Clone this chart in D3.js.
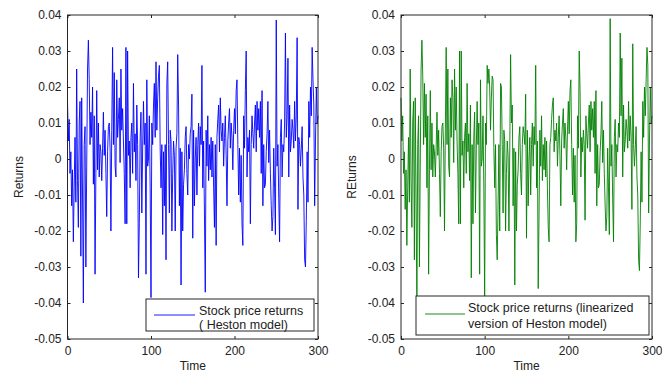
<!DOCTYPE html>
<html>
<head>
<meta charset="utf-8">
<script src="https://cdn.jsdelivr.net/npm/d3@7"></script>
<style>
  html, body { margin: 0; padding: 0; background: #fff; }
  svg { display: block; font-family: "Liberation Sans", Arial, sans-serif; }
</style>
</head>
<body>
<svg id="chart" width="662" height="374"></svg>
<script>
// Simulated daily returns, t = 0..300
const hestonReturns = [
  0.016, 0.005, 0.011, -0.004, 0.002, -0.013, -0.003, -0.023, -0.008, 0.006,
  -0.012, 0.025, -0.006, -0.019, 0.010, 0.016, -0.027, 0.017, -0.010, -0.040,
  0.004, 0.009, -0.030, -0.002, 0.025, 0.033, 0.022, 0.004, 0.013, 0.006,
  0.020, -0.007, 0.012, -0.032, -0.004, 0.019, -0.003, 0.010, -0.005, 0.004,
  0.002, -0.006, 0.003, 0.013, 0.001, 0.008, -0.004, -0.016, 0.002, 0.009,
  0.010, 0.003, -0.020, 0.008, 0.031, 0.004, 0.024, -0.002, -0.005, 0.022,
  0.006, 0.011, 0.017, -0.001, 0.025, 0.008, 0.014, 0.005, -0.004, -0.018,
  0.031, -0.018, 0.030, 0.001, 0.005, -0.008, 0.006, 0.010, -0.004, 0.021,
  0.002, 0.007, -0.006, 0.015, 0.004, -0.033, -0.018, 0.006, 0.013, -0.015,
  0.003, 0.016, 0.004, 0.010, -0.032, 0.022, -0.002, 0.000, 0.012, -0.008,
  -0.0385, 0.010, 0.004, 0.015, 0.021, 0.006, 0.027, 0.008, 0.017, 0.023,
  0.026, 0.003, -0.008, 0.004, -0.021, 0.002, -0.013, 0.004, -0.028, 0.021,
  0.027, 0.004, -0.015, 0.008, 0.005, -0.020, -0.004, 0.005, 0.001, -0.020,
  0.003, 0.007, 0.029, 0.015, -0.013, 0.003, -0.035, 0.002, -0.020, -0.007,
  -0.003, 0.006, 0.009, -0.004, -0.010, 0.004, 0.000, 0.007, 0.009, 0.018,
  -0.022, 0.008, -0.013, 0.000, 0.006, -0.010, 0.004, 0.010, -0.002, 0.009,
  0.004, 0.026, -0.008, 0.005, -0.015, -0.037, 0.008, -0.002, 0.012, -0.006,
  0.004, -0.003, 0.006, -0.005, 0.005, -0.008, -0.019, 0.004, -0.024, 0.006,
  0.011, 0.015, 0.002, 0.017, 0.008, 0.005, 0.010, -0.002, 0.006, 0.012,
  0.001, -0.013, 0.005, 0.010, 0.014, 0.003, 0.010, 0.006, -0.003, 0.008,
  0.014, 0.007, 0.019, 0.022, 0.004, -0.010, 0.003, -0.012, 0.001, -0.018,
  -0.024, 0.012, 0.003, 0.019, 0.030, -0.005, 0.006, 0.002, 0.008, -0.018,
  0.004, 0.012, 0.007, 0.003, 0.010, 0.015, 0.002, 0.016, 0.008, 0.014,
  0.006, 0.016, -0.004, 0.019, -0.013, 0.004, -0.008, -0.007, 0.002, 0.007,
  0.016, -0.001, 0.008, -0.004, -0.013, -0.020, -0.016, 0.003, -0.008, -0.021,
  0.0386, -0.002, 0.004, -0.011, -0.023, 0.006, 0.011, -0.005, 0.004, 0.002,
  0.010, 0.035, 0.006, 0.012, 0.028, -0.005, 0.015, 0.002, 0.005, 0.011,
  0.008, 0.003, 0.016, 0.005, 0.012, 0.0337, -0.014, 0.006, 0.004, -0.002,
  0.003, 0.009, -0.005, -0.010, -0.028, -0.030, -0.017, 0.002, -0.012, 0.016,
  0.006, 0.020, 0.012, 0.031, 0.022, 0.015, -0.013, 0.005, 0.020, 0.010,
  0.012
];

const linearizedReturns = [
  0.017, 0.005, 0.012, -0.004, 0.002, -0.014, -0.003, -0.024, -0.008, 0.006,
  -0.012, 0.025, -0.006, -0.019, 0.010, 0.016, -0.028, 0.017, -0.010, -0.042,
  0.004, 0.012, -0.030, -0.002, 0.025, 0.033, 0.023, 0.004, 0.021, 0.006,
  0.018, -0.008, 0.012, -0.032, -0.003, 0.019, -0.003, 0.010, -0.005, 0.004,
  0.002, -0.005, 0.003, 0.013, 0.001, 0.008, -0.004, -0.016, 0.002, 0.009,
  0.010, 0.003, -0.020, 0.008, 0.031, 0.004, 0.025, -0.002, -0.005, 0.017,
  0.006, 0.022, 0.017, -0.001, 0.025, 0.008, 0.020, 0.005, -0.004, -0.018,
  0.030, -0.018, 0.030, 0.001, 0.005, -0.008, 0.006, 0.010, -0.004, 0.021,
  0.002, 0.007, -0.006, 0.015, -0.033, 0.004, -0.018, 0.006, 0.013, -0.015,
  0.003, 0.016, 0.004, 0.010, -0.032, 0.022, -0.002, 0.000, 0.012, -0.008,
  -0.039, 0.010, 0.004, 0.026, 0.021, 0.025, 0.020, 0.008, 0.017, 0.023,
  0.022, 0.003, -0.008, 0.004, -0.021, -0.028, -0.013, 0.004, -0.020, 0.021,
  0.020, 0.004, -0.015, 0.008, 0.005, -0.020, -0.004, 0.005, 0.001, -0.020,
  0.003, 0.029, 0.010, 0.015, -0.013, 0.003, -0.035, 0.002, -0.020, -0.007,
  -0.003, 0.006, 0.009, -0.004, -0.010, 0.004, 0.009, 0.007, 0.004, 0.018,
  -0.022, 0.008, -0.013, 0.000, 0.006, -0.010, 0.004, 0.010, -0.002, 0.009,
  0.004, 0.026, -0.008, 0.005, -0.036, -0.015, 0.008, -0.002, 0.012, -0.006,
  0.004, -0.003, 0.006, -0.005, 0.005, -0.008, -0.019, -0.023, 0.004, 0.006,
  0.011, 0.015, 0.017, 0.002, 0.008, 0.005, 0.010, -0.002, 0.006, 0.012,
  0.001, -0.013, 0.005, 0.010, 0.014, 0.003, 0.010, 0.006, -0.003, 0.008,
  0.016, 0.007, 0.019, 0.022, 0.004, -0.010, 0.003, -0.012, 0.001, -0.023,
  -0.018, 0.012, 0.003, 0.030, 0.019, -0.005, 0.006, 0.002, 0.008, 0.004,
  -0.017, 0.012, 0.007, 0.003, 0.010, 0.015, 0.002, 0.016, 0.008, 0.014,
  0.006, 0.016, -0.004, 0.019, -0.013, 0.004, -0.008, -0.007, 0.002, 0.007,
  0.016, -0.001, 0.008, -0.004, -0.013, -0.020, -0.016, 0.003, -0.008, -0.021,
  0.039, -0.002, 0.004, -0.011, -0.023, 0.006, 0.011, -0.005, 0.004, 0.002,
  0.010, 0.006, 0.035, 0.012, 0.028, -0.005, 0.015, 0.002, 0.005, 0.011,
  0.008, 0.003, 0.016, 0.005, 0.012, 0.006, -0.014, 0.032, 0.004, -0.002,
  0.003, 0.009, -0.005, -0.010, -0.028, -0.031, -0.017, 0.002, -0.012, 0.016,
  0.006, 0.020, 0.012, 0.022, 0.031, 0.026, -0.015, 0.005, 0.020, 0.010,
  0.012
];

const xTicks = [0, 100, 200, 300];
const yTicks = [-0.05, -0.04, -0.03, -0.02, -0.01, 0, 0.01, 0.02, 0.03, 0.04];
const xDomain = [0, 300];
const yDomain = [-0.05, 0.04];

const panels = [
  { values: hestonReturns, color: "#0000ff", ylabel: "Returns",
    legend: ["Stock price returns", "( Heston model)"],
    left: 67.5, right: 318, box: { x: 146, y: 299, w: 168, h: 32 },
    lineY: 315, line: [154, 195], textX: 199, textY: [311, 325] },
  { values: linearizedReturns, color: "#008000", ylabel: "REturns",
    legend: ["Stock price returns (linearized", "version of Heston model)"],
    left: 401, right: 652, box: { x: 416, y: 296, w: 233, h: 39 },
    lineY: 314, line: [425, 465], textX: 468, textY: [308, 324] }
];

const plotTop = 15, plotBottom = 339;
const svg = d3.select("#chart");
const fmtY = d => d === 0 ? "0" : d.toFixed(2);
const axisColor = "#262626";

panels.forEach(p => {
  const x = d3.scaleLinear().domain(xDomain).range([p.left, p.right]);
  const y = d3.scaleLinear().domain(yDomain).range([plotBottom, plotTop]);
  const g = svg.append("g");

  // series
  g.append("path")
    .datum(p.values)
    .attr("fill", "none")
    .attr("stroke", p.color)
    .attr("stroke-width", 0.9)
    .attr("d", d3.line().x((d, i) => x(i)).y(d => y(d)));

  // axes with inward ticks, MATLAB style
  const styleAxis = sel => {
    sel.select(".domain").remove();
    sel.selectAll(".tick line").attr("stroke", axisColor);
    sel.selectAll(".tick text")
      .attr("fill", "#222")
      .style("font-size", "12px")
      .style("font-family", "'Liberation Sans', Arial, sans-serif");
  };
  g.append("g").attr("transform", `translate(0,${plotBottom})`)
    .call(d3.axisBottom(x).tickValues(xTicks).tickSize(-3).tickPadding(7).tickFormat(d3.format("d")))
    .call(styleAxis);
  g.append("g").attr("transform", `translate(0,${plotTop})`)
    .call(d3.axisTop(x).tickValues(xTicks).tickSize(-3).tickFormat(""))
    .call(styleAxis);
  g.append("g").attr("transform", `translate(${p.left},0)`)
    .call(d3.axisLeft(y).tickValues(yTicks).tickSize(-3).tickPadding(6).tickFormat(fmtY))
    .call(styleAxis);
  g.append("g").attr("transform", `translate(${p.right},0)`)
    .call(d3.axisRight(y).tickValues(yTicks).tickSize(-3).tickFormat(""))
    .call(styleAxis);

  // frame
  g.append("rect")
    .attr("x", p.left).attr("y", plotTop)
    .attr("width", p.right - p.left).attr("height", plotBottom - plotTop)
    .attr("fill", "none").attr("stroke", axisColor).attr("stroke-width", 1);

  // axis titles
  g.append("text")
    .attr("x", (p.left + p.right) / 2).attr("y", 370)
    .attr("text-anchor", "middle").attr("fill", "#222")
    .style("font-size", "12px")
    .text("Time");
  g.append("text")
    .attr("transform", `translate(${p.left - 45},${(plotTop + plotBottom) / 2}) rotate(-90)`)
    .attr("text-anchor", "middle").attr("fill", "#222")
    .style("font-size", "12px")
    .text(p.ylabel);

  // legend
  const lg = g.append("g");
  lg.append("rect")
    .attr("x", p.box.x).attr("y", p.box.y)
    .attr("width", p.box.w).attr("height", p.box.h)
    .attr("fill", "#fff").attr("stroke", axisColor).attr("stroke-width", 1);
  lg.append("line")
    .attr("x1", p.line[0]).attr("x2", p.line[1])
    .attr("y1", p.lineY).attr("y2", p.lineY)
    .attr("stroke", p.color).attr("stroke-width", 0.9);
  p.legend.forEach((t, i) => {
    lg.append("text")
      .attr("x", p.textX).attr("y", p.textY[i])
      .attr("dominant-baseline", "central")
      .attr("fill", "#222")
      .style("font-size", "12.5px")
      .text(t);
  });
});
</script>
</body>
</html>
